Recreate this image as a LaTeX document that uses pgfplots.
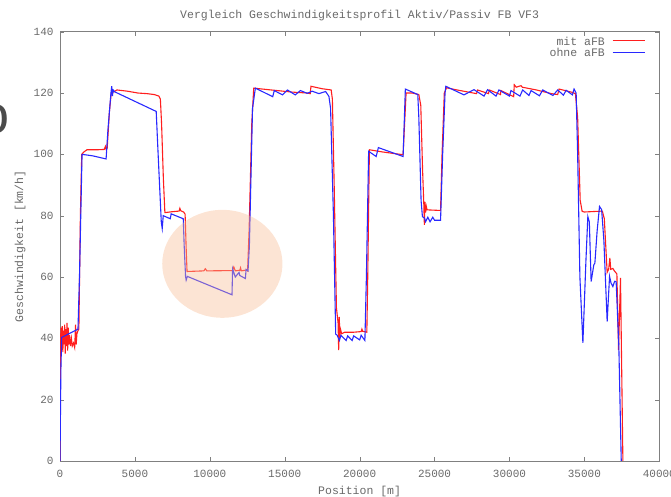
\documentclass[border=0pt]{standalone}
\usepackage{fontspec}
\setmainfont{Liberation Mono}
\newfontfamily\slidefont{Liberation Sans}
\usepackage{pgfplots}
\pgfplotsset{compat=1.18}
\definecolor{gpred}{RGB}{255,30,30}
\definecolor{gpblue}{RGB}{40,40,255}
\definecolor{gptext}{RGB}{105,105,105}
\definecolor{gpaxis}{RGB}{128,128,128}
\definecolor{peach}{RGB}{248,188,148}

\begin{document}
\begin{tikzpicture}
\useasboundingbox (0,0) rectangle (671bp,497bp);
% cut-off letter from the slide at the left edge
\node[text={rgb,255:red,75;green,75;blue,75}, font=\slidefont\fontsize{54bp}{54bp}\selectfont, inner sep=0pt] at (-5.5bp,378bp) {o};
\begin{axis}[
  at={(60bp,36bp)}, anchor=south west,
  scale only axis, width=599.3bp, height=429.3bp,
  xmin=0, xmax=40000, ymin=0, ymax=140,
  xtick={0,5000,...,40000}, ytick={0,20,...,140},
  scaled x ticks=false,
  /pgf/number format/1000 sep={},
  /pgf/number format/assume math mode=true,
  tick align=inside, major tick length=4bp,
  axis line style={gpaxis}, tick style={gpaxis},
  tick label style={font=\fontsize{11bp}{13bp}\selectfont, text=gptext},
  xticklabel style={yshift=-6bp},
  yticklabel style={xshift=-3bp},
  label style={font=\fontsize{11.5bp}{13bp}\selectfont, text=gptext},
  xlabel={Position [m]},
  ylabel={Geschwindigkeit [km/h]},
  xlabel style={at={(axis description cs:0.5,-0.0715)}, anchor=center},
  ylabel style={at={(axis description cs:-0.0667,0.5)}, anchor=center},
  title={Vergleich Geschwindigkeitsprofil Aktiv/Passiv FB VF3},
  title style={at={(axis description cs:0.5,1.0412)}, anchor=center, yshift=-8pt, font=\fontsize{11.5bp}{13bp}\selectfont, text=gptext},
  legend style={draw=none, fill=none, at={(1,1)}, anchor=north east, xshift=-14bp, yshift=-5.3bp,
    inner sep=0pt, row sep=1.7bp, column sep=7bp, font=\fontsize{11.5bp}{13bp}\selectfont, text=gptext,
    nodes={inner sep=0pt, text height=8bp, text depth=2bp}},
  legend cell align=right,
  legend plot pos=right,
]
\addplot[gpred, line width=1.1bp,
  legend image code/.code={\draw[gpred, line width=1.2bp] (0bp,1.5bp) -- (32bp,1.5bp);}] coordinates {
(0,0) (40,40) (70,43.5) (110,37) (150,44) (190,35.5) (230,42.5) (270,38) (310,44.5) (350,35)
(390,43) (430,37.5) (470,45) (510,36) (550,43.5) (590,38) (640,41) (700,37.5) (760,40) (820,37.5)
(900,38.5) (980,37) (1040,44.5) (1080,38) (1130,41.5) (1200,42.5) (1260,43) (1360,80) (1450,100)
(1600,100.8) (1800,101.5) (2500,101.5) (2950,101.6) (3030,102.6) (3080,101.6) (3150,102) (3300,114)
(3420,120) (3600,120.4) (3800,121) (4500,120.6) (5200,120) (5800,119.8) (6300,119.5) (6600,119)
(6700,118) (6780,110) (6900,92) (7000,81) (7500,81.3) (7950,81.5) (8000,82.4) (8060,81.6) (8250,81.2)
(8350,80.5) (8430,68) (8480,61.8) (9600,62) (9700,62.7) (9800,62) (11500,62.1) (11600,63.3) (11700,62)
(12000,62.2) (12050,63) (12100,62) (12450,62.3) (12520,62) (12620,75) (12800,110) (12930,121.6)
(13500,121.3) (14500,120.8) (15500,120.3) (16500,120) (16700,119.8) (16750,122.2) (17500,121.4)
(18100,121) (18180,118) (18300,90) (18450,50) (18560,45) (18600,36.2) (18640,47) (18680,40) (18720,43)
(18800,41.5) (19000,42) (19600,42) (20100,42.2) (20150,43) (20200,42.3) (20480,42) (20540,60)
(20650,101.5) (21500,100.8) (22400,100.2) (22900,99.9) (23000,110) (23100,120) (23500,120)
(23950,119.5) (24080,116) (24200,95) (24280,84) (24320,77) (24360,84.5) (24400,81) (24450,83)
(24500,81.9) (25400,81.7) (25500,100) (25650,120) (25800,121.7) (26500,121) (27800,119.8) (27870,121)
(28600,119.8) (28650,121) (29400,119.5) (29430,120.8) (30200,119) (30280,118.8) (30320,122.7)
(30450,121.9) (30770,122.4) (30850,121.9) (31800,121) (32800,119.8) (33220,119.5) (33310,121.3)
(34200,120.2) (34400,119.8) (34550,112) (34720,85) (34850,81.4) (35000,81.2) (36200,81.5) (36330,79)
(36520,61.5) (36620,62.5) (36700,66.2) (36760,62.5) (36900,62.8) (37000,62) (37170,61) (37280,36.2)
(37410,59.7) (37570,0)
};
\addlegendentry{mit aFB}
\addplot[gpblue, line width=1.1bp,
  legend image code/.code={\draw[gpblue, line width=1.2bp] (0bp,1.5bp) -- (32bp,1.5bp);}] coordinates {
(0,0) (60,30) (110,40.3) (600,41.5) (1200,43) (1300,60) (1472,100) (2200,99.5) (3077,98.5) (3200,108)
(3400,120) (3450,122.2) (3500,119) (3550,121) (3650,120.4) (6421,114) (6550,100) (6760,78) (6823,75.8)
(6890,80) (7358,79) (7420,80.6) (8227,79) (8290,70) (8380,60.2) (8420,59) (8500,60.2) (11480,54.2)
(11520,62.7) (11700,60) (11950,61.5) (12000,60.5) (12375,59.5) (12420,62.5) (12550,62) (12640,70)
(12850,115) (13040,121.6) (14200,118.8) (14300,120.8) (14850,119.4) (15180,121) (15700,119.4)
(16050,120.8) (16500,119.9) (16830,120.6) (17280,119.8) (17730,120.5) (17950,118.9) (18060,115)
(18250,80) (18400,41.4) (18500,41) (18650,39.3) (18750,41) (19100,39.3) (19200,40.8) (19500,39.3)
(19600,40.8) (20000,39.5) (20100,41) (20350,39.3) (20450,60) (20600,101) (21100,99.3) (21250,102.2)
(22900,99.3) (23050,121.3) (23880,119.5) (23950,112) (24100,85) (24190,79.7) (24330,79.2) (24400,78)
(24550,79.5) (24700,78) (24880,79.5) (25000,78.5) (25400,78.5) (25540,100) (25700,120) (25750,122.2)
(26960,119.4) (27630,121.1) (28300,119) (28540,121.1) (29100,119) (29300,121) (30000,119) (30100,120.8)
(30700,119) (30880,121) (31300,119.2) (31440,120.8) (32000,119.1) (32220,121) (32900,119.2) (33220,121)
(33600,119.3) (33780,120.9) (34200,119.4) (34310,121.3) (34450,120) (34550,100) (34700,60) (34900,38.5)
(35100,65) (35230,79.7) (35330,78) (35450,58.5) (35630,64) (35700,64.5) (35850,75) (36010,83)
(36150,82) (36300,72) (36520,45.5) (36680,60.2) (36780,58) (36900,56.9) (37020,58.6) (37120,58.5)
(37300,37.3) (37460,0)
};
\addlegendentry{ohne aFB}
\fill[peach, fill opacity=0.4] (axis cs:10836,64.3) ellipse [x radius=4013, y radius=17.6];
\end{axis}
\end{tikzpicture}
\end{document}
